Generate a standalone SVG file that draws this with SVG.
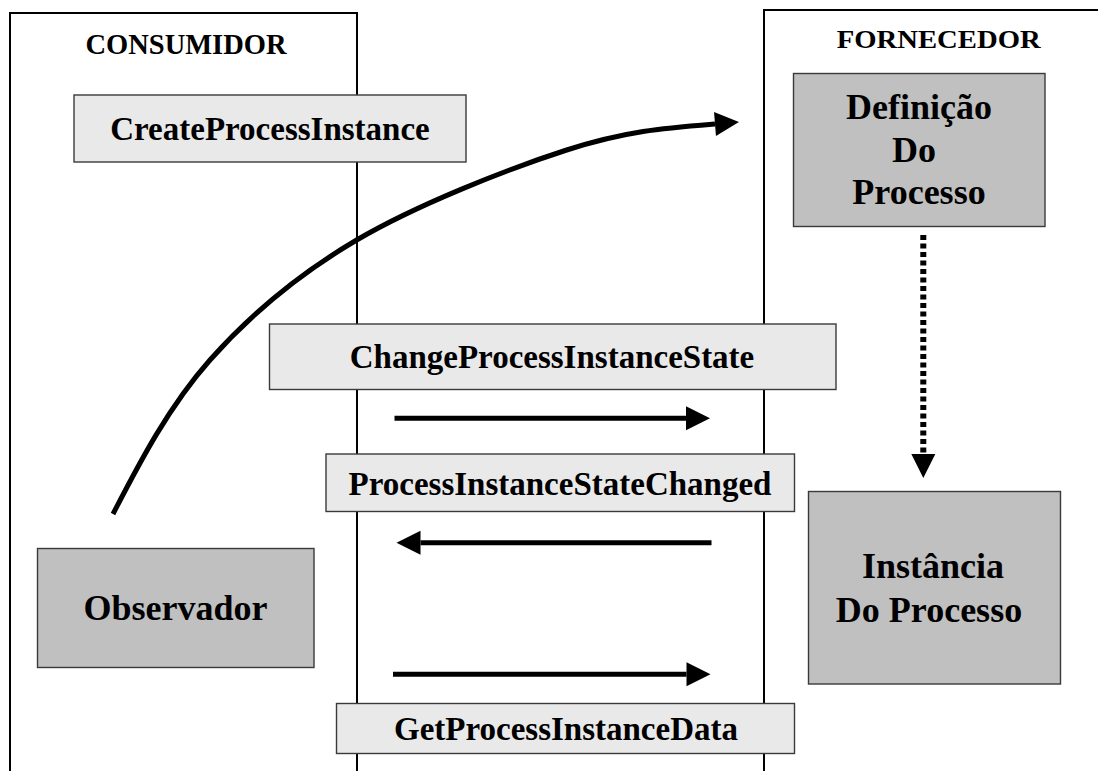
<svg xmlns="http://www.w3.org/2000/svg" width="1098" height="771" viewBox="0 0 1098 771">
  <style>
    .frame { fill: none; stroke: #000; stroke-width: 2; }
    .msg { fill: #e9e9e9; stroke: #3a3a3a; stroke-width: 1.4; }
    .actor { fill: #c0c0c0; stroke: #3a3a3a; stroke-width: 1.4; }
    text { font-family: "Liberation Serif", "Times New Roman", serif; font-weight: bold; fill: #000; text-anchor: middle; }
    .title { font-size: 28.5px; }
    .label { font-size: 33px; }
    .big { font-size: 36px; }
    .flow { fill: none; stroke: #000; stroke-width: 5; }
    .dotted { fill: none; stroke: #000; stroke-width: 6; stroke-dasharray: 5 3.5; }
  </style>
  <defs>
    <marker id="head" markerUnits="userSpaceOnUse" markerWidth="26" markerHeight="26" refX="0" refY="12" orient="auto" overflow="visible">
      <path d="M0,0 L24,12 L0,24 Z" fill="#000"/>
    </marker>
  </defs>

  <rect width="1098" height="771" fill="#fff"/>

  <!-- side frames -->
  <g id="consumidor">
    <path class="frame" d="M10,771 V13 H357 V771"/>
    <text class="title" x="186" y="54">CONSUMIDOR</text>
  </g>
  <g id="fornecedor">
    <path class="frame" d="M764,771 V10 H1098"/>
    <text x="938.7" y="48" font-size="25" textLength="204" lengthAdjust="spacingAndGlyphs">FORNECEDOR</text>
  </g>

  <!-- operations -->
  <g id="create-process-instance">
    <rect class="msg" x="74" y="95" width="392" height="67"/>
    <text class="label" x="270" y="140">CreateProcessInstance</text>
  </g>
  <g id="change-process-instance-state">
    <rect class="msg" x="269.5" y="324" width="566.5" height="65.5"/>
    <text class="label" x="552" y="368">ChangeProcessInstanceState</text>
  </g>
  <g id="process-instance-state-changed">
    <rect class="msg" x="326" y="454" width="468.5" height="57.5"/>
    <text class="label" x="560" y="495">ProcessInstanceStateChanged</text>
  </g>
  <g id="get-process-instance-data">
    <rect class="msg" x="336.5" y="703.5" width="458" height="50"/>
    <text class="label" x="566" y="740">GetProcessInstanceData</text>
  </g>

  <!-- actors -->
  <g id="observador">
    <rect class="actor" x="37.5" y="548.5" width="276.5" height="119"/>
    <text class="big" x="175.5" y="620">Observador</text>
  </g>
  <g id="definicao-do-processo">
    <rect class="actor" x="793.5" y="73.5" width="251.5" height="153"/>
    <text class="big" x="919" y="119">Definição</text>
    <text class="big" x="914" y="162">Do</text>
    <text class="big" x="919" y="204">Processo</text>
  </g>
  <g id="instancia-do-processo">
    <rect class="actor" x="808.5" y="491.5" width="252" height="192.5"/>
    <text class="big" x="933" y="578">Instância</text>
    <text class="big" x="929" y="622">Do Processo</text>
  </g>

  <!-- connectors -->
  <g id="connectors">
    <path class="flow" marker-end="url(#head)" d="M113,514 C140.5,460.7 169.4,405.7 210,360 C250.6,314.3 297.2,275 356.7,240 C416.2,205 507,169.2 566.7,150 C626.4,130.8 665,128 715,124"/>
    <path class="dotted" marker-end="url(#head)" d="M923.3,235 V454"/>
    <path class="flow" marker-end="url(#head)" d="M394.5,418.3 H686"/>
    <path class="flow" marker-end="url(#head)" d="M711.5,542.7 H420.5"/>
    <path class="flow" marker-end="url(#head)" d="M393,674.3 H686.5"/>
  </g>
</svg>
